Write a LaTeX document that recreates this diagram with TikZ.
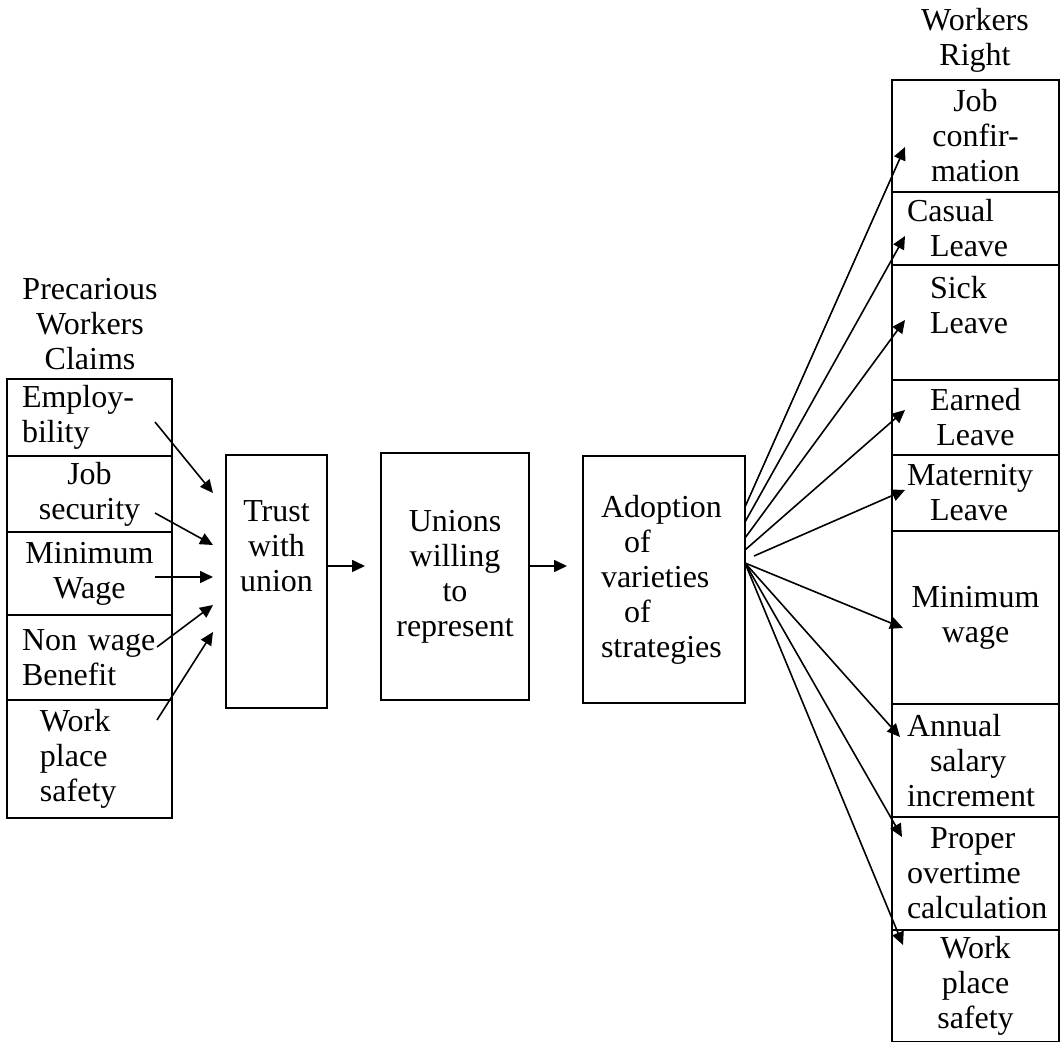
\documentclass[tikz,border=0pt]{standalone}
\usepackage{fontspec}
\setmainfont{Liberation Serif}
\usepackage{tikz}
\usetikzlibrary{arrows.meta,positioning}
\newcommand{\indnt}{\hspace*{11.5pt}}

\begin{document}
\begin{tikzpicture}[x=0.5pt, y=-0.5pt,
    font=\fontsize{16}{17.5}\selectfont,
    cell/.style={rectangle, draw, line width=0.8pt, align=center, inner ysep=1pt, outer sep=0pt},
    lcell/.style={cell, text width=67.5pt, inner xsep=7.5pt},
    rcell/.style={cell, text width=68.5pt, inner xsep=7.5pt},
    arrow/.style={-{Triangle[length=6.5pt,width=6pt]}, line width=0.8pt}
]
    \useasboundingbox (0,0) rectangle (1061,1042);

    % Claims column
    \node[align=center] (claimshead) at (90,324) {Precarious\\Workers\\Claims};
    \node[lcell, align=left, minimum height=38.5pt, anchor=north] (c1) at (89.5,379) {Employ-\\bility};
    \node[lcell, minimum height=38pt, below=0pt of c1] (c2) {Job\\security};
    \node[lcell, minimum height=41.5pt, below=0pt of c2] (c3) {Minimum\\Wage};
    \node[lcell, align=left, minimum height=42.5pt, below=0pt of c3] (c4) {Non wage\\Benefit};
    \node[lcell, align=left, minimum height=59pt, below=0pt of c4] (c5) {\hspace*{9pt}Work\\\hspace*{9pt}place\\\hspace*{9pt}safety};

    % Middle boxes
    \node[cell, text width=40pt, inner xsep=5.25pt, minimum height=126.5pt] (trust) at (276.5,581.5) {Trust\\with\\union\\~\\~};
    \node[cell, text width=64pt, inner xsep=5pt, minimum height=123.5pt] (unions) at (455,576.5) {Unions\\willing\\to\\represent};
    \node[cell, align=left, text width=63pt, inner xsep=9pt, minimum height=123.5pt] (adopt) at (664,579.5) {Adoption\\\indnt of\\varieties\\\indnt of\\strategies};

    % Rights column
    \node[align=center] (righthead) at (975,40) {Workers\\Right};
    \node[rcell, minimum height=56pt, anchor=north] (r1) at (975.5,80) {Job\\confir-\\mation};
    \node[rcell, align=left, minimum height=36.5pt, below=0pt of r1] (r2) {Casual\\\indnt Leave};
    \node[rcell, align=left, minimum height=57.5pt, below=0pt of r2] (r3) {\indnt Sick\\\indnt Leave\\~};
    \node[rcell, minimum height=37.5pt, below=0pt of r3] (r4) {Earned\\Leave};
    \node[rcell, align=left, minimum height=38pt, below=0pt of r4] (r5) {Maternity\\\indnt Leave};
    \node[rcell, minimum height=86.5pt, below=0pt of r5] (r6) {Minimum\\wage};
    \node[rcell, align=left, minimum height=56.5pt, below=0pt of r6] (r7) {Annual\\\indnt salary\\increment};
    \node[rcell, align=left, minimum height=56.5pt, below=0pt of r7] (r8) {\indnt Proper\\overtime\\calculation};
    \node[rcell, minimum height=56pt, below=0pt of r8] (r9) {Work\\place\\safety};

    % Claims into trust
    \draw[arrow] ([xshift=-8.5pt,yshift=-2.25pt]c1.east) -- ([xshift=-6.5pt,yshift=44.25pt]trust.west);
    \draw[arrow] ([xshift=-8.5pt,yshift=-9.5pt]c2.east) -- ([xshift=-6.5pt,yshift=18.25pt]trust.west);
    \draw[arrow] ([xshift=-8.5pt,yshift=-1.75pt]c3.east) -- ([xshift=-6.5pt,yshift=2.25pt]trust.west);
    \draw[arrow] ([xshift=-7.5pt,yshift=5.25pt]c4.east) -- ([xshift=-6.5pt,yshift=-11.75pt]trust.west);
    \draw[arrow] ([xshift=-7.5pt,yshift=19.5pt]c5.east) -- ([xshift=-6.5pt,yshift=-25.25pt]trust.west);

    % Chain
    \draw[arrow] ([yshift=7.75pt]trust.east) -- ([xshift=-8pt,yshift=5.25pt]unions.west);
    \draw[arrow] ([yshift=5.25pt]unions.east) -- ([xshift=-8pt,yshift=6.75pt]adopt.west);

    % Strategies out to rights
    \draw[arrow] ([yshift=36.25pt]adopt.east) -- ([xshift=6.5pt,yshift=-5.5pt]r1.west);
    \draw[arrow] ([yshift=28.75pt]adopt.east) -- ([xshift=6.5pt,yshift=-3.75pt]r2.west);
    \draw[arrow] ([yshift=20.75pt]adopt.east) -- ([xshift=6.5pt,yshift=1.25pt]r3.west);
    \draw[arrow] ([yshift=14.75pt]adopt.east) -- ([xshift=6.5pt,yshift=3.75pt]r4.west);
    \draw[arrow] ([xshift=4.5pt,yshift=11.75pt]adopt.east) -- ([xshift=6.5pt,yshift=1.5pt]r5.west);
    \draw[arrow] ([yshift=8.25pt]adopt.east) -- ([xshift=5.5pt,yshift=-5.25pt]r6.west);
    \draw[arrow] ([yshift=8.25pt]adopt.east) -- ([xshift=4pt,yshift=11.75pt]r7.west);
    \draw[arrow] ([yshift=8.25pt]adopt.east) -- ([xshift=5pt,yshift=18.25pt]r8.west);
    \draw[arrow] ([yshift=8.25pt]adopt.east) -- ([xshift=5.5pt,yshift=20.5pt]r9.west);
\end{tikzpicture}
\end{document}
